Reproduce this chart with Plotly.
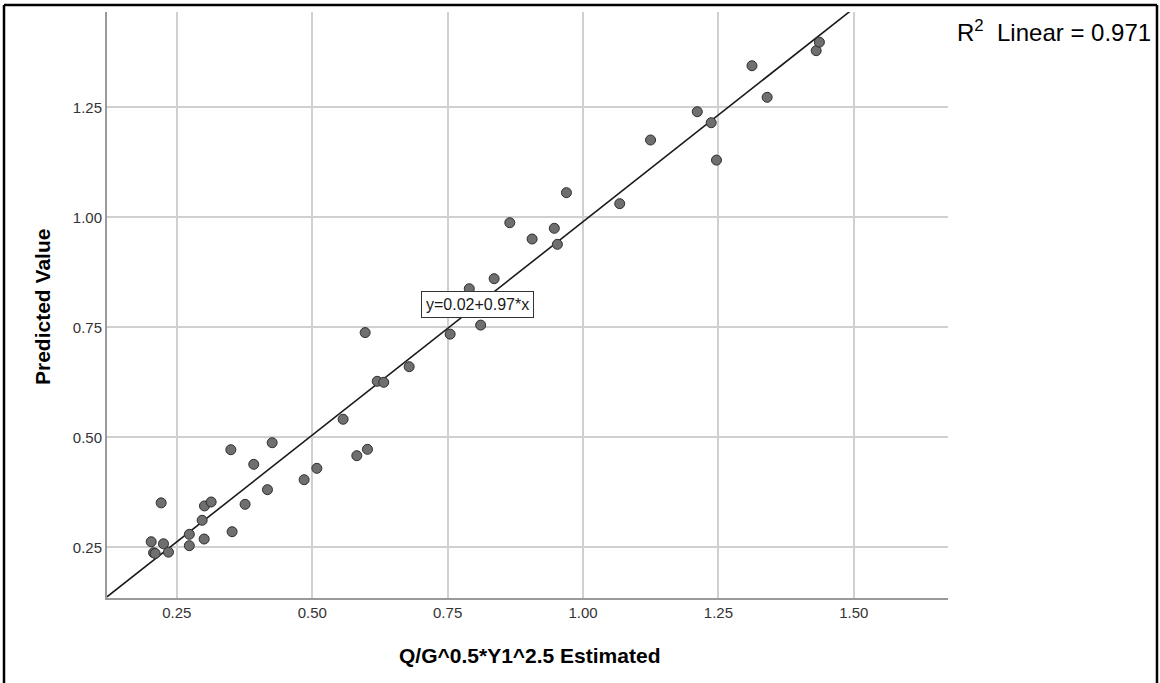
import plotly.graph_objects as go
import numpy as np

x_est = [0.2026, 0.207, 0.210, 0.2253, 0.2345, 0.221, 0.273, 0.273, 0.2967, 0.301,
         0.3133, 0.3004, 0.3497, 0.352, 0.376, 0.392, 0.4173, 0.426, 0.485, 0.5085,
         0.557, 0.5823, 0.602, 0.620, 0.632, 0.679, 0.5977, 0.7546,
         0.811, 0.790, 0.8359, 0.8648, 0.906, 0.947, 0.9527, 0.9694,
         1.0678, 1.1247, 1.211, 1.2367, 1.2465, 1.312, 1.340, 1.4306, 1.4365]
y_pred = [0.2627, 0.2377, 0.236, 0.258, 0.239, 0.351, 0.2795, 0.2537, 0.3114, 0.344,
          0.353, 0.2689, 0.4718, 0.2855, 0.3477, 0.4386, 0.381, 0.4877, 0.4036, 0.4295,
          0.541, 0.4582, 0.4727, 0.6273, 0.625, 0.6605, 0.738, 0.7345,
          0.755, 0.8377, 0.8605, 0.9877, 0.9507, 0.975, 0.9386, 1.056,
          1.031, 1.1757, 1.240, 1.215, 1.130, 1.3445, 1.2727, 1.3787, 1.398]

fit_intercept = 0.02
fit_slope = 0.97
r2_linear = 0.971

x_ticks = [0.25, 0.50, 0.75, 1.00, 1.25, 1.50]
y_ticks = [0.25, 0.50, 0.75, 1.00, 1.25]
x_range = [0.121, 1.674]
y_range = [0.1348, 1.4666]

W, H = 1160, 683
ml, mr, mt, mb = 107, 212, 12, 85
pw, ph = W - ml - mr, H - mt - mb

def px_to_paper_x(px):
    return (px - ml) / pw

def py_to_paper_y(py):
    return (H - mb - py) / ph

font_fam = "Liberation Sans, Arial, sans-serif"

fig = go.Figure()

line_x = np.array(x_range)
line_y = fit_intercept + fit_slope * line_x
fig.add_trace(go.Scatter(x=line_x, y=line_y, mode="lines",
                         line=dict(color="#1a1a1a", width=1.6),
                         hoverinfo="skip", showlegend=False))

fig.add_trace(go.Scatter(x=x_est, y=y_pred, mode="markers",
                         marker=dict(size=10, color="#6f6f6f",
                                     line=dict(color="#2e2e2e", width=1)),
                         showlegend=False))

fig.update_layout(
    width=W, height=H,
    margin=dict(l=ml, r=mr, t=mt, b=mb, pad=0),
    paper_bgcolor="white", plot_bgcolor="white",
    font=dict(family=font_fam, color="#333333"),
    xaxis=dict(range=x_range, tickvals=x_ticks,
               ticktext=[f"{v:.2f}" for v in x_ticks],
               showgrid=True, gridcolor="#d0d0d0", gridwidth=1.5,
               zeroline=False, showline=True, linecolor="#9a9a9a", linewidth=2,
               ticks="", tickfont=dict(size=15, color="#333333", family=font_fam)),
    yaxis=dict(range=y_range, tickvals=y_ticks,
               ticktext=[f"{v:.2f}" for v in y_ticks],
               showgrid=True, gridcolor="#d0d0d0", gridwidth=1.5,
               zeroline=False, showline=True, linecolor="#9a9a9a", linewidth=2,
               ticks="", tickfont=dict(size=15, color="#333333", family=font_fam)),
)

# Outer frame (drawn as separate edges)
fx0, fx1 = px_to_paper_x(4), px_to_paper_x(1157)
fy_top, fy_bot = py_to_paper_y(5), py_to_paper_y(700)
for (a0, b0, a1, b1) in [(fx0, fy_top, fx1, fy_top), (fx0, fy_bot, fx0, fy_top),
                         (fx1, fy_bot, fx1, fy_top)]:
    fig.add_shape(type="line", xref="paper", yref="paper",
                  x0=a0, y0=b0, x1=a1, y1=b1,
                  line=dict(color="black", width=2.5), layer="above")

# Axis titles
fig.add_annotation(xref="paper", yref="paper",
                   x=px_to_paper_x(529), y=py_to_paper_y(655),
                   text="<b>Q/G^0.5*Y1^2.5 Estimated</b>", showarrow=False,
                   xanchor="center", yanchor="middle",
                   font=dict(size=21, color="black", family=font_fam))
fig.add_annotation(xref="paper", yref="paper",
                   x=px_to_paper_x(42), y=py_to_paper_y(307),
                   text="<b>Predicted Value</b>", showarrow=False, textangle=-90,
                   xanchor="center", yanchor="middle",
                   font=dict(size=21, color="black", family=font_fam))

# R^2 label
fig.add_annotation(xref="paper", yref="paper",
                   x=px_to_paper_x(1153), y=py_to_paper_y(31),
                   text=f"R<sup>2</sup>&nbsp;&nbsp;Linear = {r2_linear:.3f}",
                   showarrow=False, xanchor="right", yanchor="middle",
                   font=dict(size=24, color="black", family=font_fam))

# Equation label
fig.add_annotation(x=0.806, y=0.802, xref="x", yref="y",
                   text=f"y={fit_intercept:.2f}+{fit_slope:.2f}*x",
                   showarrow=False, bgcolor="white", bordercolor="#333333",
                   borderwidth=1, borderpad=4,
                   font=dict(size=16, color="#1a1a1a", family=font_fam))

fig.write_html("out.html", config={"displayModeBar": False},
               post_script="document.body.style.margin='0';document.body.style.overflow='hidden';")
